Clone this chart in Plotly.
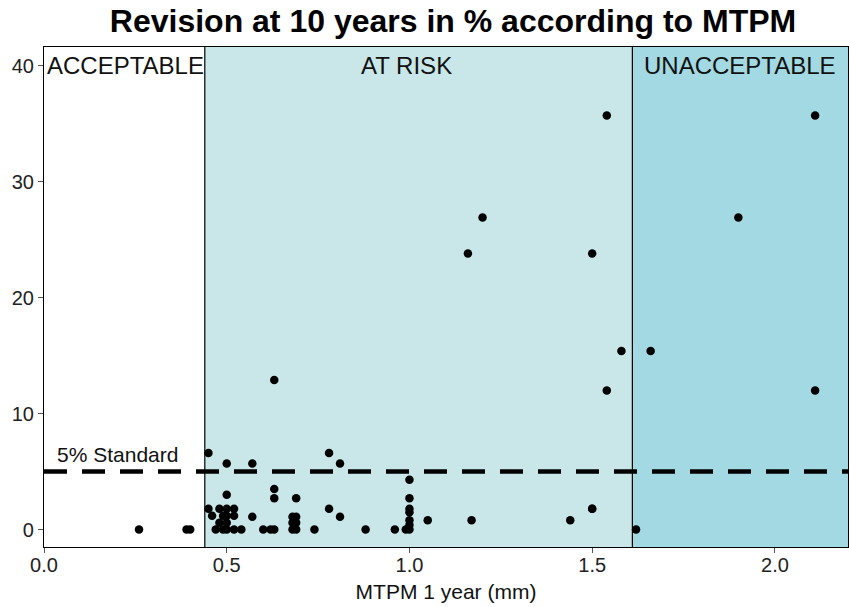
import plotly.graph_objects as go

# Data
mtpm_x = [0.26, 0.39, 0.40,
          0.45, 0.45, 0.46, 0.47, 0.48, 0.48, 0.49, 0.49, 0.50, 0.50, 0.50, 0.50, 0.50, 0.50,
          0.52, 0.52, 0.52, 0.54, 0.57, 0.57, 0.60, 0.62, 0.63, 0.63, 0.63, 0.63,
          0.68, 0.68, 0.68, 0.69, 0.69, 0.69, 0.69, 0.74, 0.78, 0.78, 0.81, 0.81,
          0.88, 0.96, 0.99, 1.00, 1.00, 1.00, 1.00, 1.00, 1.00, 1.00, 1.05, 1.17,
          1.44, 1.50, 1.62,
          1.16, 1.20, 1.50, 1.54, 1.50, 1.54, 1.58, 1.66, 1.90, 2.11, 2.11]
rev_y = [0.0, 0.0, 0.0,
         6.6, 1.8, 1.2, 0.0, 1.8, 0.6, 1.2, 0.0, 5.7, 3.0, 1.8, 1.2, 0.6, 0.0,
         1.8, 1.2, 0.0, 0.0, 5.7, 1.1, 0.0, 0.0, 12.9, 3.5, 2.7, 0.0,
         1.1, 0.6, 0.0, 2.7, 1.1, 0.6, 0.0, 0.0, 6.6, 1.8, 5.7, 1.1,
         0.0, 0.0, 0.0, 4.3, 2.7, 1.8, 1.5, 0.8, 0.4, 0.0, 0.8, 0.8,
         0.8, 1.8, 0.0,
         23.8, 26.9, 23.8, 35.7, 1.8, 12.0, 15.4, 15.4, 26.9, 35.7, 12.0]

zone_edges = [0.0, 0.44, 1.61, 2.2]
zone_names = ["ACCEPTABLE", "AT RISK", "UNACCEPTABLE"]
zone_colors = ["#FFFFFF", "#C9E7E8", "#A2D9E2"]
zone_label_shift = [1, -12, 0]
standard_pct = 5
x_ticks = [0.0, 0.5, 1.0, 1.5, 2.0]
x_tick_labels = ["0.0", "0.5", "1.0", "1.5", "2.0"]
y_ticks = [0, 10, 20, 30, 40]

font_family = "Liberation Sans, Arial, sans-serif"

fig = go.Figure()

shapes = []
annotations = []
for i, name in enumerate(zone_names):
    x0, x1 = zone_edges[i], zone_edges[i + 1]
    shapes.append(dict(type="rect", xref="x", yref="paper", x0=x0, x1=x1, y0=0, y1=1,
                       fillcolor=zone_colors[i], line=dict(width=0), layer="below"))
    annotations.append(dict(x=(x0 + x1) / 2, y=40, xref="x", yref="y", text=name,
                            showarrow=False, yanchor="middle", xshift=zone_label_shift[i],
                            font=dict(size=24, color="#111111", family=font_family)))
for e in zone_edges[1:-1]:
    shapes.append(dict(type="line", xref="x", yref="paper", x0=e, x1=e, y0=0, y1=1,
                       line=dict(color="black", width=1.2), layer="below"))

fig.add_trace(go.Scatter(x=[zone_edges[0], zone_edges[-1]], y=[standard_pct, standard_pct],
                         mode="lines", line=dict(color="black", width=4.5, dash="23px,15px"),
                         hoverinfo="skip", showlegend=False))

fig.add_trace(go.Scatter(x=mtpm_x, y=rev_y, mode="markers",
                         marker=dict(color="black", size=8.5),
                         showlegend=False))

annotations.append(dict(x=0.03, y=standard_pct, xref="x", yref="y", text="5% Standard",
                        showarrow=False, xanchor="left", yanchor="bottom", yshift=4,
                        font=dict(size=21, color="#111111", family=font_family)))

fig.update_layout(
    width=850, height=607,
    margin=dict(l=44, r=2, t=47, b=60),
    paper_bgcolor="white", plot_bgcolor="white",
    title=dict(text="<b>Revision at 10 years in % according to MTPM</b>",
               x=453 / 850, xanchor="center", y=0.965, yanchor="middle",
               font=dict(size=32, color="black", family=font_family)),
    shapes=shapes, annotations=annotations,
    xaxis=dict(range=[0, 2.2], tickvals=x_ticks, ticktext=x_tick_labels,
               ticks="outside", ticklen=5, tickcolor="#555555",
               ticklabelstandoff=-5,
               showgrid=False, zeroline=False, showline=True, linecolor="black", linewidth=1.2,
               mirror=True,
               tickfont=dict(size=20, color="#222222", family=font_family),
               title=dict(text="MTPM 1 year (mm)", standoff=9,
                          font=dict(size=21, color="#111111", family=font_family))),
    yaxis=dict(range=[-1.5, 41.6], tickvals=y_ticks,
               ticks="outside", ticklen=5, tickcolor="#555555",
               showgrid=False, zeroline=False, showline=True, linecolor="black", linewidth=1.2,
               mirror=True,
               tickfont=dict(size=20, color="#222222", family=font_family)),
)

fig.write_html("out.html")
